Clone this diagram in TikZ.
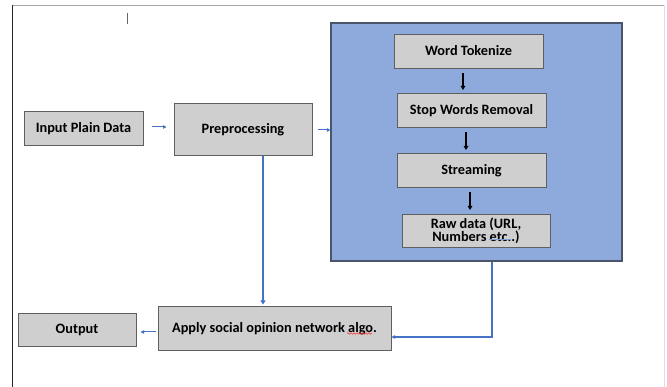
\documentclass[tikz,border=0pt]{standalone}
\usepackage{fontspec}
\setmainfont{Carlito}
\usetikzlibrary{arrows.meta,calc,decorations.pathmorphing}
\definecolor{boxfill}{RGB}{208,207,207}
\definecolor{boxline}{RGB}{95,95,95}
\definecolor{panelfill}{RGB}{142,169,219}
\definecolor{panelline}{RGB}{75,85,105}
\definecolor{arrowblue}{RGB}{68,114,196}
\tikzset{
  graybox/.style={draw=boxline, line width=1pt, fill=boxfill, inner sep=0pt,
    font=\fontsize{14.3}{14}\selectfont\bfseries, align=center},
  bluearrow/.style={draw=arrowblue, line width=1pt, -{Triangle[length=3.5pt,width=3.5pt]}},
  thickblue/.style={draw=arrowblue, line width=1.8pt, -{Triangle[length=4pt,width=5pt]}},
  blackarrow/.style={draw=black, line width=1.2pt, -{Triangle[length=4pt,width=4.5pt]}},
}
\begin{document}
\begin{tikzpicture}[x=1pt,y=-1pt]
\useasboundingbox (0,0) rectangle (667,387);
\fill[white] (0,0) rectangle (667,387);
% page frame
\draw[gray!70, line width=0.8pt] (12,5) -- (664,5);
\draw[gray!25, line width=0.8pt] (664,5) -- (664,390);
\draw[black!85, line width=1pt] (12,5) -- (12,390);
\coordinate (tickA) at (127,13);
\coordinate (tickB) at (127,24);
\draw[gray!80!black, line width=1pt] (tickA) -- (tickB);
% panel
\node[draw=panelline, line width=1.2pt, fill=panelfill, minimum width=291pt, minimum height=238pt, inner sep=0pt] (panel) at (476.5,142) {};
% boxes
\node[graybox, minimum width=149pt, minimum height=34pt] (wt) at (468.5,52) {\raisebox{4pt}{Word Tokenize}};
\node[graybox, minimum width=149pt, minimum height=34pt] (sw) at (471.5,111) {\raisebox{4pt}{Stop Words Removal}};
\node[graybox, minimum width=149pt, minimum height=34pt] (st) at (471.5,171) {\raisebox{4pt}{Streaming}};
\node[graybox, minimum width=148pt, minimum height=33pt] (raw) at (476,231.5) {\raisebox{1pt}{\begin{tabular}{@{}c@{}}Raw data (URL,\\[-2pt]Numbers etc..)\end{tabular}}};
\node[graybox, minimum width=119pt, minimum height=34pt] (inp) at (83.5,129) {\raisebox{3pt}{Input Plain Data}};
\node[graybox, minimum width=138pt, minimum height=52pt] (pre) at (243,130) {\raisebox{4pt}{Preprocessing}};
\node[graybox, minimum width=233pt, minimum height=44pt] (app) at (274.5,329) {\raisebox{3pt}{Apply social opinion network algo.}};
\node[graybox, minimum width=118pt, minimum height=33pt] (out) at (77,330.5) {\raisebox{3pt}{Output}};
% spell-check marks
\coordinate (sqA) at (347,333.5);
\coordinate (sqB) at (372,333.5);
\draw[red!80, line width=0.5pt, decorate, decoration={snake, amplitude=0.8pt, segment length=3pt}] (sqA) -- (sqB);
\coordinate (sqC) at (489,239.5);
\coordinate (sqD) at (511,239.5);
\draw[arrowblue!70, line width=0.4pt] (sqC) -- (sqD);
% black arrows inside panel
\coordinate (b1) at ($(wt.south)+(-5.5,4)$);
\draw[blackarrow, shorten >=3.5pt] (b1) -- (b1 |- sw.north);
\coordinate (b2) at ($(sw.south)+(-5.5,4)$);
\draw[blackarrow, shorten >=3.5pt] (b2) -- (b2 |- st.north);
\coordinate (b3) at ($(st.south)+(-1.5,4)$);
\draw[blackarrow, shorten >=4.5pt] (b3) -- (b3 |- raw.north);
% blue connectors
\coordinate (a1) at ($(inp.east)+(0,-2)$);
\draw[bluearrow, shorten <=8pt, shorten >=7pt] (a1) -- (a1 -| pre.west);
\draw[bluearrow, shorten <=5pt] (pre.east) -- (pre.east -| panel.west);
\coordinate (a2) at ($(pre.south)+(20,0)$);
\draw[thickblue, shorten >=2pt] (a2) -- (a2 |- app.north);
\coordinate (a3) at ($(panel.south)+(15.5,0)$);
\coordinate (a4) at ($(app.east)+(0,8)$);
\draw[bluearrow, line width=1.3pt] (a3) |- (a4);
\coordinate (a5) at ($(app.west)+(0,3)$);
\draw[bluearrow, shorten <=2pt, shorten >=4pt] (a5) -- (a5 -| out.east);
\end{tikzpicture}
\end{document}
